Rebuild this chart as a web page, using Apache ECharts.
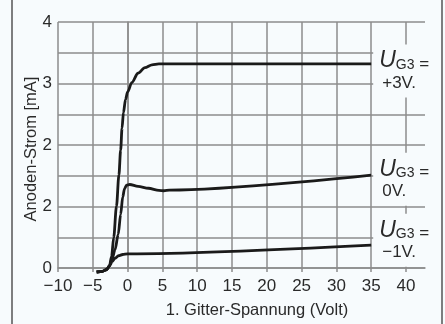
<!DOCTYPE html>
<html>
<head>
<meta charset="utf-8">
<script src="https://cdn.jsdelivr.net/npm/echarts@6/dist/echarts.min.js"></script>
<style>
html,body{margin:0;padding:0;background:#f7fbfd;}
#c{width:445px;height:324px;}
</style>
</head>
<body>
<div id="c"></div>
<script>
// ---- data ----
var xAxisName = '1. Gitter-Spannung (Volt)';
var yAxisName = 'Anoden-Strom [mA]';
var yTickLabels = ['0', '', '2', '', '2', '', '3', '', '4']; // at 0,0.5,...,4
var seriesNames = ['+3V.', '0V.', '\u22121V.'];
var curvePlus3 = [[-4.45,0],[-3.6,0.01],[-3.0,0.04],[-2.6,0.1],[-2.3,0.25],[-2.0,0.55],[-1.6,1.05],[-1.25,1.55],[-1.0,1.95],[-0.8,2.3],[-0.6,2.55],[-0.3,2.76],[0,2.88],[0.6,3.03],[1.5,3.18],[2.5,3.27],[3.5,3.315],[4.5,3.33],[35,3.33]];
var curve0 = [[-4.45,0],[-3.6,0.01],[-3.0,0.04],[-2.6,0.1],[-2.2,0.22],[-1.8,0.36],[-1.35,0.6],[-1.0,0.92],[-0.7,1.2],[-0.45,1.33],[-0.15,1.39],[0.3,1.4],[1.5,1.37],[3,1.34],[4.5,1.305],[5.2,1.3],[6,1.31],[35,1.55]];
var curveMinus1 = [[-4.45,0],[-3.6,0.01],[-3.0,0.04],[-2.6,0.1],[-2.2,0.17],[-1.8,0.22],[-1.3,0.26],[-0.7,0.28],[0,0.29],[35,0.43]];
var curves = [curvePlus3, curve0, curveMinus1];
var labelOffsets = [7, 4, -5];

// ---- style ----
var BG = '#f7fbfd';
var GRID = '#8c8c8c';
var TXT = '#2a2a2a';
var FONT = 'Liberation Sans';

var chart = echarts.init(document.getElementById('c'), null, {renderer: 'canvas'});

function mkSeries(i) {
  return {
    type: 'line',
    name: seriesNames[i],
    xAxisIndex: 1, yAxisIndex: 1,
    data: curves[i],
    showSymbol: false,
    symbol: 'none',
    smooth: 0.3,
    smoothMonotone: 'x',
    clip: false,
    lineStyle: {color: '#1a1a1a', width: 2.8},
    z: 3,
    endLabel: {
      show: true,
      distance: 2,
      offset: [0, labelOffsets[i]],
      backgroundColor: BG,
      padding: [4, 4, 4, 6],
      color: TXT,
      fontFamily: FONT,
      formatter: '{u|U}{s|G3}{e| =}\n{v|' + seriesNames[i] + '}',
      rich: {
        u: {fontSize: 23, fontStyle: 'italic', fontFamily: FONT, color: TXT, lineHeight: 24, verticalAlign: 'bottom'},
        s: {fontSize: 14, fontFamily: FONT, color: TXT, lineHeight: 12, verticalAlign: 'bottom'},
        e: {fontSize: 17, fontFamily: FONT, color: TXT, lineHeight: 24, verticalAlign: 'bottom'},
        v: {fontSize: 17, fontFamily: FONT, color: TXT, lineHeight: 21, padding: [0, 0, 0, 3]}
      }
    }
  };
}

chart.setOption({
  backgroundColor: BG,
  animation: false,
  grid: [
    {left: 58, right: 20, top: 22, bottom: 52},
    {left: 58, right: 39, top: 22, bottom: 52}
  ],
  xAxis: [
    {
      gridIndex: 0, type: 'value', min: -10, max: 42.7,
      axisLine: {show: true, lineStyle: {color: GRID, width: 1.5}},
      axisTick: {show: false}, axisLabel: {show: false}, splitLine: {show: false},
      name: xAxisName, nameLocation: 'middle', nameGap: 34, nameMoveOverlap: false,
      nameTextStyle: {fontFamily: FONT, fontSize: 16.5, color: TXT, padding: [0, 0, 0, 31]}
    },
    {
      gridIndex: 1, type: 'value', min: -10, max: 40, interval: 5,
      axisLine: {show: false}, axisTick: {show: false},
      axisLabel: {fontFamily: FONT, fontSize: 17, color: TXT, margin: 6,
        formatter: function (v) { return String(v).replace('-', '\u2212'); }},
      splitLine: {show: true, lineStyle: {color: GRID, width: 1.5}}
    }
  ],
  yAxis: [
    {
      gridIndex: 0, type: 'value', min: 0, max: 4, interval: 0.5,
      axisLine: {show: true, lineStyle: {color: GRID, width: 1.5}},
      axisTick: {show: false},
      axisLabel: {fontFamily: FONT, fontSize: 17, color: TXT, margin: 6,
        formatter: function (v) { return yTickLabels[Math.round(v / 0.5)] || ''; }},
      splitLine: {show: true, lineStyle: {color: GRID, width: 1.5}},
      name: yAxisName, nameLocation: 'middle', nameGap: 18, nameRotate: 90, nameMoveOverlap: false,
      nameTextStyle: {fontFamily: FONT, fontSize: 16.5, color: TXT, padding: [0, 8, 0, 0]}
    },
    {
      gridIndex: 1, type: 'value', min: 0, max: 4, show: false
    }
  ],
  graphic: [
    {type: 'line', shape: {x1: 12, y1: 0, x2: 12, y2: 324}, style: {stroke: '#555', lineWidth: 1.5}},
    {type: 'line', shape: {x1: 442, y1: 0, x2: 442, y2: 324}, style: {stroke: '#555', lineWidth: 1.5}}
  ],
  series: [mkSeries(0), mkSeries(1), mkSeries(2)]
});
</script>
</body>
</html>
